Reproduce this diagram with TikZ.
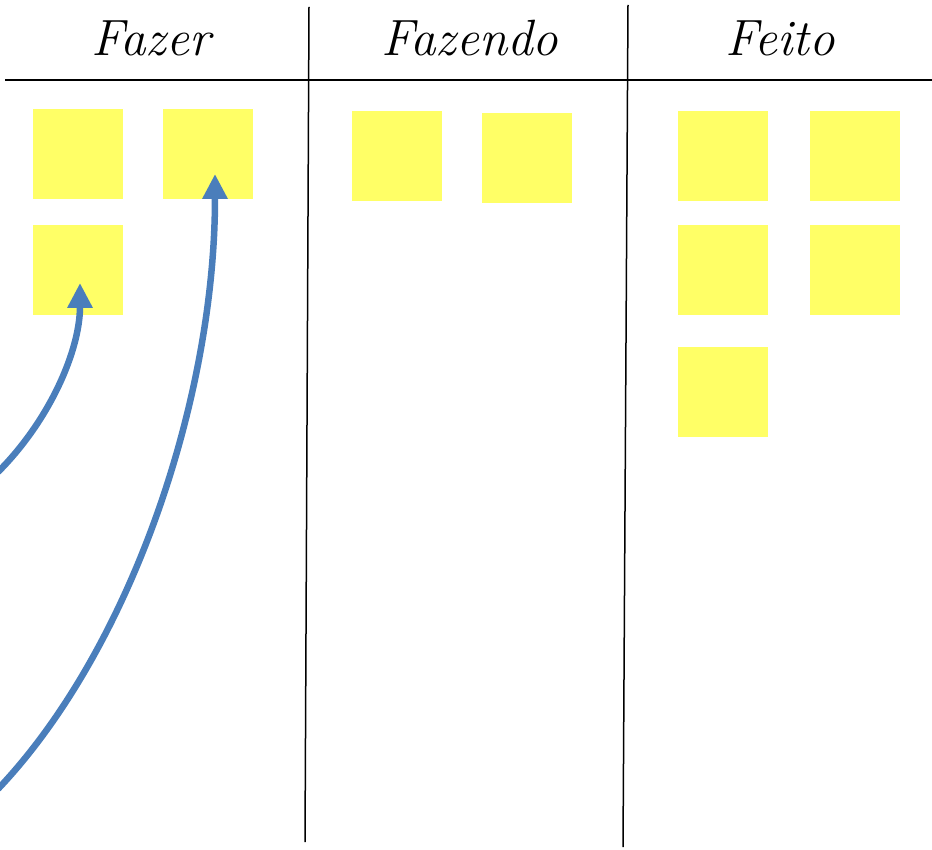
\documentclass[tikz,border=0pt]{standalone}
\usetikzlibrary{arrows.meta}
\definecolor{notey}{RGB}{255,255,102}
\definecolor{arrowb}{RGB}{74,126,187}
\begin{document}
\begin{tikzpicture}[x=1pt,y=-1pt,
  note/.style={fill=notey,draw=none,minimum width=90pt,minimum height=90pt,inner sep=0pt},
  head/.style={font=\fontsize{51}{55}\selectfont\itshape,anchor=base,inner sep=0pt},
  rule/.style={line width=1.8pt,black},
  flow/.style={arrowb,line width=6.5pt,-{Triangle[length=25pt,width=24pt]}}]
\useasboundingbox (0,0) rectangle (932,850);
% headers
\node[head] (h1) at (151,56) {Fazer};
\node[head] (h2) at (470,56) {Fazendo};
\node[head] (h3) at (780,56) {Feito};
% board lines
\coordinate (hl) at (5,80);
\coordinate (hr) at (932,80);
\coordinate (v1t) at (309,7);
\coordinate (v1b) at (305,842);
\coordinate (v2t) at (628,5);
\coordinate (v2b) at (623,847);
\draw[rule] (hl) -- (hr);
\draw[rule,line width=1.5pt] (v1t) -- (v1b);
\draw[rule,line width=1.5pt] (v2t) -- (v2b);
% notes: Fazer
\node[note] (a1) at (78,154) {};
\node[note] (a2) at (208,154) {};
\node[note] (a3) at (78,270) {};
% notes: Fazendo
\node[note] (b1) at (397,156) {};
\node[note] (b2) at (527,158) {};
% notes: Feito
\node[note] (c1) at (723,156) {};
\node[note] (c2) at (855,156) {};
\node[note] (c3) at (723,270) {};
\node[note] (c4) at (855,270) {};
\node[note] (c5) at (723,392) {};
% arrows
\coordinate (s1) at (-2,472);
\coordinate (t1) at (80,283);
\coordinate (s2) at (-2,789);
\coordinate (t2) at (215,174);
\draw[flow] (s1) .. controls (50,420) and (80,350) .. (t1);
\draw[flow] (s2) .. controls (130,650) and (215,400) .. (t2);
\end{tikzpicture}
\end{document}
